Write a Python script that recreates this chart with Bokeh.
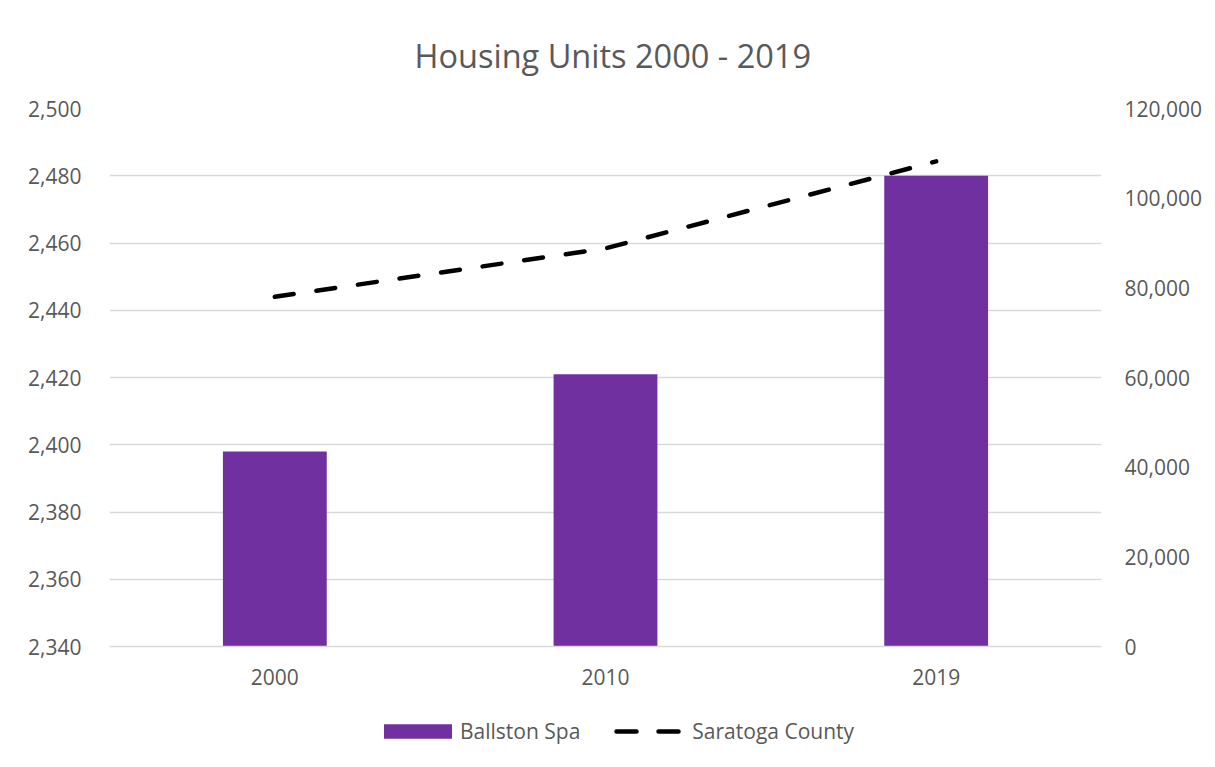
from bokeh.plotting import figure
from bokeh.layouts import column
from bokeh.models import (Range1d, LinearAxis, FixedTicker, NumeralTickFormatter,
                          Legend, LegendItem, FactorRange)
from bokeh.embed import file_html
from bokeh.resources import INLINE

years = ["2000", "2010", "2019"]
ballston_spa = [2398, 2421, 2480]
saratoga_county = [78000, 88800, 108200]
left_ticks = [2340, 2360, 2380, 2400, 2420, 2440, 2460, 2480, 2500]
right_ticks = [0, 20000, 40000, 60000, 80000, 100000, 120000]

FONT = "Open Sans"
TXT = "#595959"
GRID = "#D9D9D9"
PURPLE = "#7030A0"

p = figure(x_range=FactorRange(*years), y_range=Range1d(2340, 2500),
           width=1215, height=700, output_backend="svg", toolbar_location=None,
           min_border_left=109, min_border_right=114, min_border_top=107,
           min_border_bottom=54, title="Housing Units 2000 - 2019")
p.extra_y_ranges = {"county": Range1d(0, 120000)}

p.title.align = "left"
p.title.offset = 305
p.title.text_font = FONT
p.title.text_font_size = "32.5px"
p.title.text_font_style = "normal"
p.title.text_color = TXT
p.title.standoff = 61

p.outline_line_color = None
p.xgrid.grid_line_color = None
p.ygrid.grid_line_color = GRID
p.ygrid.grid_line_width = 1.5
p.ygrid.ticker = FixedTicker(ticks=left_ticks)

bars = p.vbar(x=years, top=ballston_spa, bottom=2340, width=0.314,
              fill_color=PURPLE, line_color=None)
line = p.line(x=years, y=saratoga_county, y_range_name="county",
              line_color="black", line_width=4.5, line_dash="19 23",
              line_cap="round")

ly = p.yaxis[0]
ly.ticker = FixedTicker(ticks=left_ticks)
ly.formatter = NumeralTickFormatter(format="0,0")

ry = LinearAxis(y_range_name="county", ticker=FixedTicker(ticks=right_ticks),
                formatter=NumeralTickFormatter(format="0,0"))
p.add_layout(ry, "right")

for ax in [ly, ry, p.xaxis[0]]:
    ax.axis_line_color = None
    ax.major_tick_line_color = None
    ax.minor_tick_line_color = None
    ax.major_tick_out = 0
    ax.major_tick_in = 0
    ax.major_label_text_font = FONT
    ax.major_label_text_font_size = "21px"
    ax.major_label_text_color = TXT
ly.major_label_standoff = 28
ry.major_label_standoff = 23
xa = p.xaxis[0]
xa.axis_line_color = GRID
xa.axis_line_width = 1.5
xa.major_label_standoff = 22

# legend strip below the chart (same series, kept outside its visible range)
p2 = figure(width=1215, height=67, output_backend="svg", toolbar_location=None,
            min_border=0, x_axis_type=None, y_axis_type=None,
            x_range=FactorRange(*years), y_range=Range1d(1e7, 1e7 + 1))
p2.outline_line_color = None
p2.grid.visible = False
lb = p2.vbar(x=years, top=ballston_spa, bottom=2340, width=0,
             fill_color=PURPLE, line_color=None)
ll = p2.line(x=years, y=saratoga_county, line_color="black", line_width=4.5,
             line_dash="20 22 20 100", line_dash_offset=153, line_cap="round")
legend = Legend(items=[LegendItem(label="Ballston Spa", renderers=[lb]),
                       LegendItem(label="Saratoga County", renderers=[ll])],
                orientation="horizontal", location=(266, 22),
                glyph_width=85, glyph_height=18, label_standoff=0, spacing=27,
                label_text_font=FONT, label_text_font_size="21px",
                label_text_color=TXT, border_line_color=None,
                background_fill_alpha=0, padding=0, margin=0)
p2.add_layout(legend, "center")

open("out.html", "w").write(file_html(column(p, p2), INLINE))
